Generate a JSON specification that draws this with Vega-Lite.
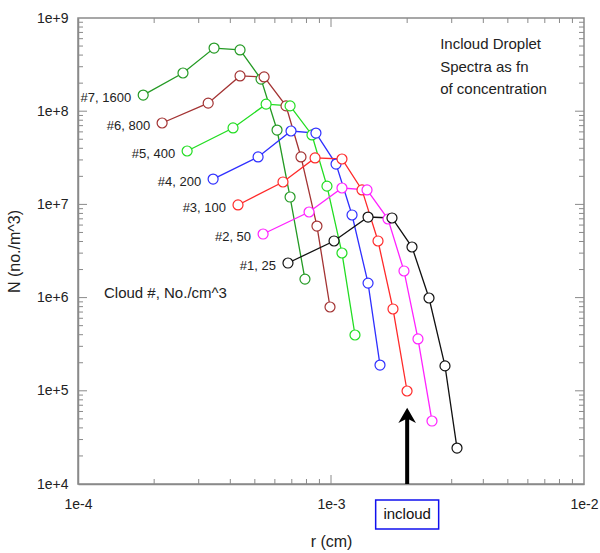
{
  "$schema": "https://vega.github.io/schema/vega-lite/v6.json",
  "width": 506,
  "height": 466,
  "autosize": {"type": "none"},
  "padding": {"left": 78, "top": 18, "right": 16, "bottom": 69},
  "background": "white",
  "config": {
    "view": {"stroke": "#8a8a8a", "strokeWidth": 1.5},
    "font": "Liberation Sans",
    "axis": {
      "domainColor": "#8a8a8a",
      "domainWidth": 1.5,
      "grid": false,
      "ticks": false,
      "labelFont": "Liberation Sans",
      "labelFontSize": 14,
      "labelColor": "#222222",
      "labelFlush": false,
      "labelOverlap": false,
      "titleFont": "Liberation Sans",
      "titleFontSize": 16,
      "titleFontWeight": "normal",
      "titleColor": "#222222"
    }
  },
  "datasets": {
    "spectra": [
      {"cloud": "7", "r": 0.000181, "N": 1.49e8, "label": "#7, 1600"},
      {"cloud": "7", "r": 0.000260, "N": 2.57e8},
      {"cloud": "7", "r": 0.000345, "N": 4.76e8},
      {"cloud": "7", "r": 0.000437, "N": 4.54e8},
      {"cloud": "7", "r": 0.000529, "N": 2.21e8},
      {"cloud": "7", "r": 0.000612, "N": 6.28e7},
      {"cloud": "7", "r": 0.000689, "N": 1.20e7},
      {"cloud": "7", "r": 0.000789, "N": 1.58e6},
      {"cloud": "6", "r": 0.000215, "N": 7.47e7, "label": "#6, 800"},
      {"cloud": "6", "r": 0.000327, "N": 1.22e8},
      {"cloud": "6", "r": 0.000437, "N": 2.39e8},
      {"cloud": "6", "r": 0.000544, "N": 2.33e8},
      {"cloud": "6", "r": 0.000664, "N": 1.14e8},
      {"cloud": "6", "r": 0.000761, "N": 3.23e7},
      {"cloud": "6", "r": 0.000880, "N": 5.86e6},
      {"cloud": "6", "r": 0.000991, "N": 7.93e5},
      {"cloud": "5", "r": 0.000270, "N": 3.74e7, "label": "#5, 400"},
      {"cloud": "5", "r": 0.000410, "N": 6.61e7},
      {"cloud": "5", "r": 0.000554, "N": 1.19e8},
      {"cloud": "5", "r": 0.000689, "N": 1.14e8},
      {"cloud": "5", "r": 0.000841, "N": 5.56e7},
      {"cloud": "5", "r": 0.000964, "N": 1.57e7},
      {"cloud": "5", "r": 0.001105, "N": 3.01e6},
      {"cloud": "5", "r": 0.001244, "N": 3.97e5},
      {"cloud": "4", "r": 0.000342, "N": 1.87e7, "label": "#4, 200"},
      {"cloud": "4", "r": 0.000515, "N": 3.23e7},
      {"cloud": "4", "r": 0.000695, "N": 6.13e7},
      {"cloud": "4", "r": 0.000872, "N": 5.83e7},
      {"cloud": "4", "r": 0.001047, "N": 2.71e7},
      {"cloud": "4", "r": 0.001211, "N": 7.70e6},
      {"cloud": "4", "r": 0.001401, "N": 1.43e6},
      {"cloud": "4", "r": 0.001562, "N": 1.89e5},
      {"cloud": "3", "r": 0.000429, "N": 9.86e6, "label": "#3, 100"},
      {"cloud": "3", "r": 0.000646, "N": 1.74e7},
      {"cloud": "3", "r": 0.000865, "N": 3.15e7},
      {"cloud": "3", "r": 0.001105, "N": 3.07e7},
      {"cloud": "3", "r": 0.001326, "N": 1.43e7},
      {"cloud": "3", "r": 0.001534, "N": 4.05e6},
      {"cloud": "3", "r": 0.001758, "N": 7.55e5},
      {"cloud": "3", "r": 0.001998, "N": 9.95e4},
      {"cloud": "2", "r": 0.000539, "N": 4.81e6, "label": "#2, 50"},
      {"cloud": "2", "r": 0.000819, "N": 8.29e6},
      {"cloud": "2", "r": 0.001105, "N": 1.50e7},
      {"cloud": "2", "r": 0.001388, "N": 1.43e7},
      {"cloud": "2", "r": 0.001680, "N": 6.97e6},
      {"cloud": "2", "r": 0.001943, "N": 1.93e6},
      {"cloud": "2", "r": 0.002207, "N": 3.60e5},
      {"cloud": "2", "r": 0.002507, "N": 4.74e4},
      {"cloud": "1", "r": 0.000676, "N": 2.35e6, "label": "#1, 25"},
      {"cloud": "1", "r": 0.001028, "N": 4.05e6},
      {"cloud": "1", "r": 0.001401, "N": 7.32e6},
      {"cloud": "1", "r": 0.001742, "N": 7.15e6},
      {"cloud": "1", "r": 0.002090, "N": 3.49e6},
      {"cloud": "1", "r": 0.002440, "N": 9.90e5},
      {"cloud": "1", "r": 0.002822, "N": 1.85e5},
      {"cloud": "1", "r": 0.003148, "N": 2.43e4}
    ],
    "xticks": [
      {"r": 0.0002, "major": false}, {"r": 0.0003, "major": false}, {"r": 0.0004, "major": false}, {"r": 0.0005, "major": false},
      {"r": 0.0006, "major": false}, {"r": 0.0007, "major": false}, {"r": 0.0008, "major": false}, {"r": 0.0009, "major": false},
      {"r": 0.001, "major": true},
      {"r": 0.002, "major": false}, {"r": 0.003, "major": false}, {"r": 0.004, "major": false}, {"r": 0.005, "major": false},
      {"r": 0.006, "major": false}, {"r": 0.007, "major": false}, {"r": 0.008, "major": false}, {"r": 0.009, "major": false}
    ],
    "yticks": [
      {"N": 20000, "major": false}, {"N": 30000, "major": false}, {"N": 40000, "major": false}, {"N": 50000, "major": false}, {"N": 60000, "major": false}, {"N": 70000, "major": false}, {"N": 80000, "major": false}, {"N": 90000, "major": false},
      {"N": 100000, "major": true},
      {"N": 200000, "major": false}, {"N": 300000, "major": false}, {"N": 400000, "major": false}, {"N": 500000, "major": false}, {"N": 600000, "major": false}, {"N": 700000, "major": false}, {"N": 800000, "major": false}, {"N": 900000, "major": false},
      {"N": 1000000, "major": true},
      {"N": 2000000, "major": false}, {"N": 3000000, "major": false}, {"N": 4000000, "major": false}, {"N": 5000000, "major": false}, {"N": 6000000, "major": false}, {"N": 7000000, "major": false}, {"N": 8000000, "major": false}, {"N": 9000000, "major": false},
      {"N": 10000000, "major": true},
      {"N": 20000000, "major": false}, {"N": 30000000, "major": false}, {"N": 40000000, "major": false}, {"N": 50000000, "major": false}, {"N": 60000000, "major": false}, {"N": 70000000, "major": false}, {"N": 80000000, "major": false}, {"N": 90000000, "major": false},
      {"N": 100000000, "major": true},
      {"N": 200000000, "major": false}, {"N": 300000000, "major": false}, {"N": 400000000, "major": false}, {"N": 500000000, "major": false}, {"N": 600000000, "major": false}, {"N": 700000000, "major": false}, {"N": 800000000, "major": false}, {"N": 900000000, "major": false}
    ],
    "notes": [
      {"r": 0.00270, "N": 6.2e8, "text": "Incloud Droplet\nSpectra as fn\nof concentration"},
      {"r": 0.0001267, "N": 1.33e6, "text": "Cloud #, No./cm^3"}
    ],
    "arrow": [
      {"r": 0.002, "N": 10000, "N2": 56000, "tip": 54000, "boxN": 4710, "text": "incloud"}
    ]
  },
  "resolve": {"scale": {"x": "independent", "y": "independent"}, "axis": {"x": "independent", "y": "independent"}},
  "layer": [
    {
      "data": {"name": "spectra"},
      "mark": {"type": "line", "strokeWidth": 1.3},
      "encoding": {
        "x": {
          "field": "r", "type": "quantitative",
          "scale": {"type": "log", "domain": [0.0001, 0.01], "nice": false},
          "title": "r (cm)",
          "axis": {
            "orient": "bottom",
            "values": [0.0001, 0.001, 0.01],
            "format": ".0e",
            "labelPadding": 13,
            "titlePadding": 22
          }
        },
        "y": {
          "field": "N", "type": "quantitative",
          "scale": {"type": "log", "domain": [10000, 1000000000], "nice": false},
          "title": "N (no./m^3)",
          "axis": {
            "orient": "left",
            "values": [10000, 100000, 1000000, 10000000, 100000000, 1000000000],
            "format": ".0e",
            "labelPadding": 10,
            "titlePadding": 14
          }
        },
        "color": {
          "field": "cloud", "type": "nominal",
          "scale": {"domain": ["1", "2", "3", "4", "5", "6", "7"], "range": ["#111111", "#ff22ff", "#ff2a2a", "#2f2fff", "#22dd22", "#a33333", "#249a24"]},
          "legend": null
        }
      }
    },
    {
      "data": {"name": "xticks"},
      "mark": {"type": "point", "shape": "M0,0L0,-1", "filled": false, "color": "#8a8a8a", "strokeWidth": 1, "opacity": 1},
      "encoding": {
        "x": {"field": "r", "type": "quantitative", "scale": {"type": "log", "domain": [0.0001, 0.01], "nice": false}, "axis": null},
        "y": {"datum": 10000, "type": "quantitative", "scale": {"type": "log", "domain": [10000, 1000000000], "nice": false}, "axis": null},
        "size": {"condition": {"test": "datum.major", "value": 324}, "value": 100}
      }
    },
    {
      "data": {"name": "xticks"},
      "mark": {"type": "point", "shape": "M0,0L0,1", "filled": false, "color": "#8a8a8a", "strokeWidth": 1, "opacity": 1},
      "encoding": {
        "x": {"field": "r", "type": "quantitative", "scale": {"type": "log", "domain": [0.0001, 0.01], "nice": false}, "axis": null},
        "y": {"datum": 1000000000, "type": "quantitative", "scale": {"type": "log", "domain": [10000, 1000000000], "nice": false}, "axis": null},
        "size": {"condition": {"test": "datum.major", "value": 324}, "value": 100}
      }
    },
    {
      "data": {"name": "yticks"},
      "mark": {"type": "point", "shape": "M0,0L1,0", "filled": false, "color": "#8a8a8a", "strokeWidth": 1, "opacity": 1},
      "encoding": {
        "x": {"datum": 0.0001, "type": "quantitative", "scale": {"type": "log", "domain": [0.0001, 0.01], "nice": false}, "axis": null},
        "y": {"field": "N", "type": "quantitative", "scale": {"type": "log", "domain": [10000, 1000000000], "nice": false}, "axis": null},
        "size": {"condition": {"test": "datum.major", "value": 324}, "value": 100}
      }
    },
    {
      "data": {"name": "yticks"},
      "mark": {"type": "point", "shape": "M0,0L-1,0", "filled": false, "color": "#8a8a8a", "strokeWidth": 1, "opacity": 1},
      "encoding": {
        "x": {"datum": 0.01, "type": "quantitative", "scale": {"type": "log", "domain": [0.0001, 0.01], "nice": false}, "axis": null},
        "y": {"field": "N", "type": "quantitative", "scale": {"type": "log", "domain": [10000, 1000000000], "nice": false}, "axis": null},
        "size": {"condition": {"test": "datum.major", "value": 324}, "value": 100}
      }
    },
    {
      "data": {"name": "spectra"},
      "mark": {"type": "point", "filled": false, "fill": "white", "fillOpacity": 1, "opacity": 1, "size": 100, "strokeWidth": 1.2},
      "encoding": {
        "x": {"field": "r", "type": "quantitative", "scale": {"type": "log", "domain": [0.0001, 0.01], "nice": false}, "axis": null},
        "y": {"field": "N", "type": "quantitative", "scale": {"type": "log", "domain": [10000, 1000000000], "nice": false}, "axis": null},
        "color": {"field": "cloud", "type": "nominal", "legend": null}
      }
    },
    {
      "data": {"name": "spectra"},
      "transform": [{"filter": "isValid(datum.label)"}],
      "mark": {"type": "text", "align": "right", "baseline": "middle", "dx": -12, "dy": 3, "fontSize": 13, "color": "#222222"},
      "encoding": {
        "x": {"field": "r", "type": "quantitative", "scale": {"type": "log", "domain": [0.0001, 0.01], "nice": false}, "axis": null},
        "y": {"field": "N", "type": "quantitative", "scale": {"type": "log", "domain": [10000, 1000000000], "nice": false}, "axis": null},
        "text": {"field": "label"}
      }
    },
    {
      "data": {"name": "notes"},
      "mark": {"type": "text", "align": "left", "baseline": "top", "lineBreak": "\n", "lineHeight": 22.5, "fontSize": 15, "color": "#222222"},
      "encoding": {
        "x": {"field": "r", "type": "quantitative", "scale": {"type": "log", "domain": [0.0001, 0.01], "nice": false}, "axis": null},
        "y": {"field": "N", "type": "quantitative", "scale": {"type": "log", "domain": [10000, 1000000000], "nice": false}, "axis": null},
        "text": {"field": "text"}
      }
    },
    {
      "data": {"name": "arrow"},
      "mark": {"type": "rule", "strokeWidth": 4, "color": "black"},
      "encoding": {
        "x": {"field": "r", "type": "quantitative", "scale": {"type": "log", "domain": [0.0001, 0.01], "nice": false}, "axis": null},
        "y": {"field": "N", "type": "quantitative", "scale": {"type": "log", "domain": [10000, 1000000000], "nice": false}, "axis": null},
        "y2": {"field": "N2"}
      }
    },
    {
      "data": {"name": "arrow"},
      "mark": {"type": "point", "shape": "M0,-1L1.1,0.9L0,0.35L-1.1,0.9Z", "size": 256, "filled": true, "color": "black", "opacity": 1, "strokeWidth": 0},
      "encoding": {
        "x": {"field": "r", "type": "quantitative", "scale": {"type": "log", "domain": [0.0001, 0.01], "nice": false}, "axis": null},
        "y": {"field": "tip", "type": "quantitative", "scale": {"type": "log", "domain": [10000, 1000000000], "nice": false}, "axis": null}
      }
    },
    {
      "data": {"name": "arrow"},
      "mark": {"type": "point", "shape": "M-1,-0.46L1,-0.46L1,0.46L-1,0.46Z", "size": 3969, "filled": false, "color": "#1010ee", "opacity": 1, "strokeWidth": 1.5},
      "encoding": {
        "x": {"field": "r", "type": "quantitative", "scale": {"type": "log", "domain": [0.0001, 0.01], "nice": false}, "axis": null},
        "y": {"field": "boxN", "type": "quantitative", "scale": {"type": "log", "domain": [10000, 1000000000], "nice": false}, "axis": null}
      }
    },
    {
      "data": {"name": "arrow"},
      "mark": {"type": "text", "align": "center", "baseline": "middle", "fontSize": 15, "color": "#111111"},
      "encoding": {
        "x": {"field": "r", "type": "quantitative", "scale": {"type": "log", "domain": [0.0001, 0.01], "nice": false}, "axis": null},
        "y": {"field": "boxN", "type": "quantitative", "scale": {"type": "log", "domain": [10000, 1000000000], "nice": false}, "axis": null},
        "text": {"field": "text"}
      }
    }
  ]
}
